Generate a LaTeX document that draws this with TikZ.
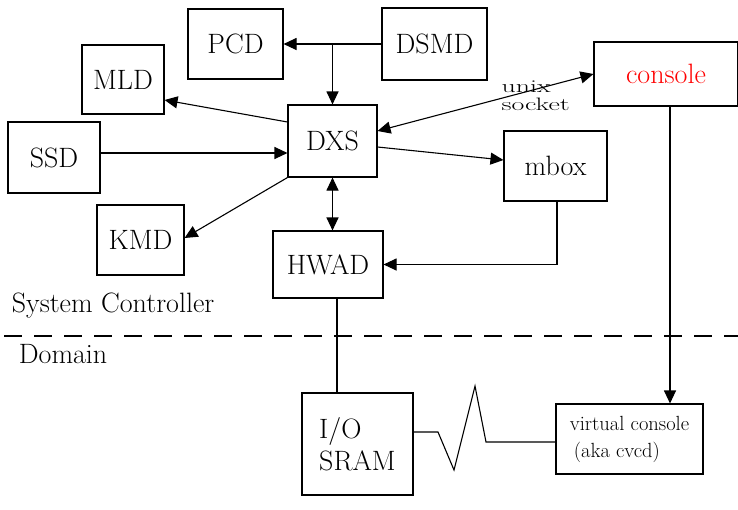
\documentclass[tikz,border=0pt]{standalone}
\usepackage{fontspec}
\usepackage{graphicx}
\usetikzlibrary{arrows.meta}
\begin{document}
\begin{tikzpicture}[x=1pt,y=-1pt,line width=1.1pt,
		box/.style={draw,inner sep=0pt,font=\fontsize{28}{32}\selectfont},
		tip/.style={-{Triangle[length=13pt,width=12pt]}},
		tips/.style={{Triangle[length=13pt,width=12pt]}-{Triangle[length=13pt,width=12pt]}}]
		\useasboundingbox (0,0) rectangle (738,509);
		\draw (235.5,44) node[box,minimum width=95pt,minimum height=70pt](pcd){PCD} (434.5,44) node[box,minimum width=105pt,minimum height=72pt](dsmd){DSMD};
		\draw (123,79.5) node[box,minimum width=82pt,minimum height=69pt](mld){MLD} (666,74) node[box,minimum width=144pt,minimum height=64pt,text=red](con){console};
		\draw (332.5,141) node[box,minimum width=89pt,minimum height=72pt](dxs){DXS} (54,157.5) node[box,minimum width=92pt,minimum height=71pt](ssd){SSD};
		\draw (555.5,166) node[box,minimum width=103pt,minimum height=70pt](mbox){mbox} (140.5,240) node[box,minimum width=87pt,minimum height=70pt](kmd){KMD};
		\draw (328,264.5) node[box,minimum width=110pt,minimum height=67pt](hwad){HWAD};
		\draw (357.5,444) node[box,minimum width=111pt,minimum height=102pt,align=left](sram){I/O\\SRAM};
		\draw (629.5,439) node[box,minimum width=147pt,minimum height=70pt,align=left,font=\fontsize{20.5}{27}\selectfont](vc){virtual console\\\hspace{4pt}(aka cvcd)};
		\draw (8,306) node[anchor=west,font=\fontsize{28}{32}\selectfont](sc){System Controller} (15,354) node[anchor=west,font=\fontsize{28}{32}\selectfont](dom){Domain};
		\draw (501,96) node[anchor=west,align=left,inner sep=0pt,font=\fontsize{18}{18}\selectfont](sock){\scalebox{1.55}[1]{unix}\\\scalebox{1.55}[1]{socket}};
		% connectors
		\draw[tip] (dsmd.west) -- (pcd.east);
		\draw[tip] (dxs.north |- dsmd.west) coordinate(j) -- (dxs.north);
		\draw[tip] (dxs.west |- 0,122) -- (mld.east |- 0,100);
		\draw[tip] (ssd.east |- 0,153) -- (dxs.west |- 0,153);
		\draw[tip] (dxs.south west) -- (kmd.east |- 0,238);
		\draw[tips] (dxs.south) -- (dxs.south |- hwad.north);
		\draw[tip] (dxs.east |- 0,147) -- (mbox.west |- 0,160);
		\draw[tips] (dxs.east |- 0,131) -- (con.west);
		\draw[tip] (mbox.south -| 557,0) -- (557,0 |- hwad.east) -- (hwad.east);
		\draw[tip] (670,0 |- con.south) -- (670,0 |- vc.north);
		\draw (337,0 |- hwad.south) -- (337,0 |- sram.north);
		\draw (sram.east |- 0,432) -- (438,432) -- (454,470) -- (475,386) -- (486,442) -- (vc.west |- 0,442);
		\draw[dash pattern=on 18pt off 12pt] (4,336) -- (738,336);
	\end{tikzpicture}
\end{document}
